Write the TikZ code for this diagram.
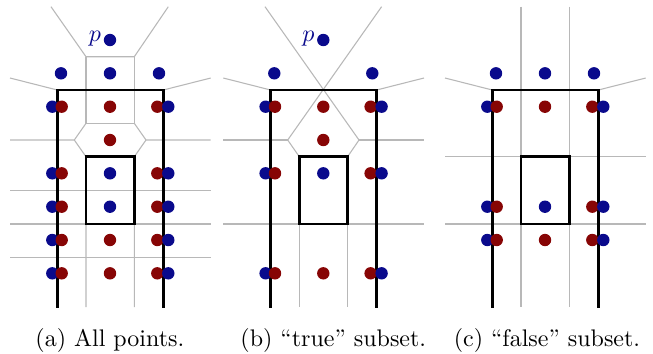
\documentclass[tikz,border=0pt]{standalone}
\usetikzlibrary{calc}
\definecolor{dotblue}{RGB}{10,10,140}
\definecolor{dotred}{RGB}{135,5,5}
\tikzset{
  vor/.style={draw=black!28, line width=0.45pt},
  frame/.style={draw=black, line width=1.2pt, line cap=rect},
  bdot/.style={fill=dotblue},
  rdot/.style={fill=dotred},
  capt/.style={anchor=base west, inner sep=0pt, font=\normalsize}
}
\newcommand{\bd}[2]{\fill[bdot] (#1,#2) circle (6.2);}
\newcommand{\rd}[2]{\fill[rdot] (#1,#2) circle (6.2);}
% a row with pairs on both edges and a centre point of given colour
\newcommand{\pairrow}[2]{\bd{52.3}{#1}\rd{61.7}{#1}\rd{157.3}{#1}\bd{168.3}{#1}\fill[#2] (110,#1) circle (6.2);}
\newcommand{\frames}{%
  \draw[frame] (57.3,307) -- (57.3,90) -- (163.3,90) -- (163.3,307);
  \draw[frame] (86,156.7) rectangle (134.3,224);}
\newcommand{\sidelines}{%
  \draw[vor] (10,78) -- (57.3,90);
  \draw[vor] (163.3,90) -- (210.7,78);}
\begin{document}
\begin{tikzpicture}[x=0.4167pt, y=-0.4167pt]
\useasboundingbox (0,0) rectangle (653,353);
% ---------------- panel (a)
\begin{scope}
  \sidelines
  \draw[vor] (51,6.7) -- (86,56.7) -- (134.3,56.7) -- (168.3,6.7);
  \draw[vor] (86,56.7) -- (86,123.3) -- (134.3,123.3) -- (134.3,56.7);
  \draw[vor] (10,140) -- (74.3,140) -- (86,123.3);
  \draw[vor] (74.3,140) -- (86,156.7) -- (86,307);
  \draw[vor] (210.7,140) -- (146,140) -- (134.3,123.3);
  \draw[vor] (146,140) -- (134.3,156.7) -- (134.3,307);
  \draw[vor] (10,190.7) -- (210.7,190.7);
  \draw[vor] (10,224) -- (210.7,224);
  \draw[vor] (10,257.3) -- (210.7,257.3);
  \frames
  \bd{110}{40}
  \node[anchor=east, inner sep=0pt, text=dotblue] (pa) at (101.5,39) {$p$};
  \bd{61}{73.3}\bd{110}{73.3}\bd{159}{73.3}
  \pairrow{106.7}{rdot}
  \rd{110}{140}
  \pairrow{173.3}{bdot}
  \pairrow{206.7}{bdot}
  \pairrow{240}{rdot}
  \pairrow{273.3}{rdot}
  \node[capt] (capa) at (35,346) {(a) All points.};
\end{scope}
% ---------------- panel (b)
\begin{scope}[shift={(213.3,0)}]
  \sidelines
  \draw[vor] (51.7,6.7) -- (145.7,140) -- (134.3,156.7);
  \draw[vor] (168.3,6.7) -- (74.4,140) -- (86,156.7);
  \draw[vor] (10,140) -- (74.4,140);
  \draw[vor] (145.7,140) -- (210.7,140);
  \draw[vor] (10,224) -- (210.7,224);
  \draw[vor] (86,224) -- (86,307);
  \draw[vor] (134.3,224) -- (134.3,307);
  \frames
  \bd{110}{40}
  \node[anchor=east, inner sep=0pt, text=dotblue] (pb) at (101.5,39) {$p$};
  \bd{61}{73.3}\bd{159}{73.3}
  \pairrow{106.7}{rdot}
  \rd{110}{140}
  \pairrow{173.3}{bdot}
  \pairrow{273.3}{rdot}
  \node[capt] (capb) at (26.7,346) {(b) ``true'' subset.};
\end{scope}
% ---------------- panel (c)
\begin{scope}[shift={(435,0)}]
  \sidelines
  \draw[vor] (86,6.7) -- (86,307);
  \draw[vor] (134.3,6.7) -- (134.3,307);
  \draw[vor] (10,156.7) -- (210.7,156.7);
  \draw[vor] (10,224) -- (210.7,224);
  \frames
  \bd{61}{73.3}\bd{110}{73.3}\bd{159}{73.3}
  \pairrow{106.7}{rdot}
  \pairrow{206.7}{bdot}
  \pairrow{240}{rdot}
  \node[capt] (capc) at (18.3,346) {(c) ``false'' subset.};
\end{scope}
\end{tikzpicture}
\end{document}
